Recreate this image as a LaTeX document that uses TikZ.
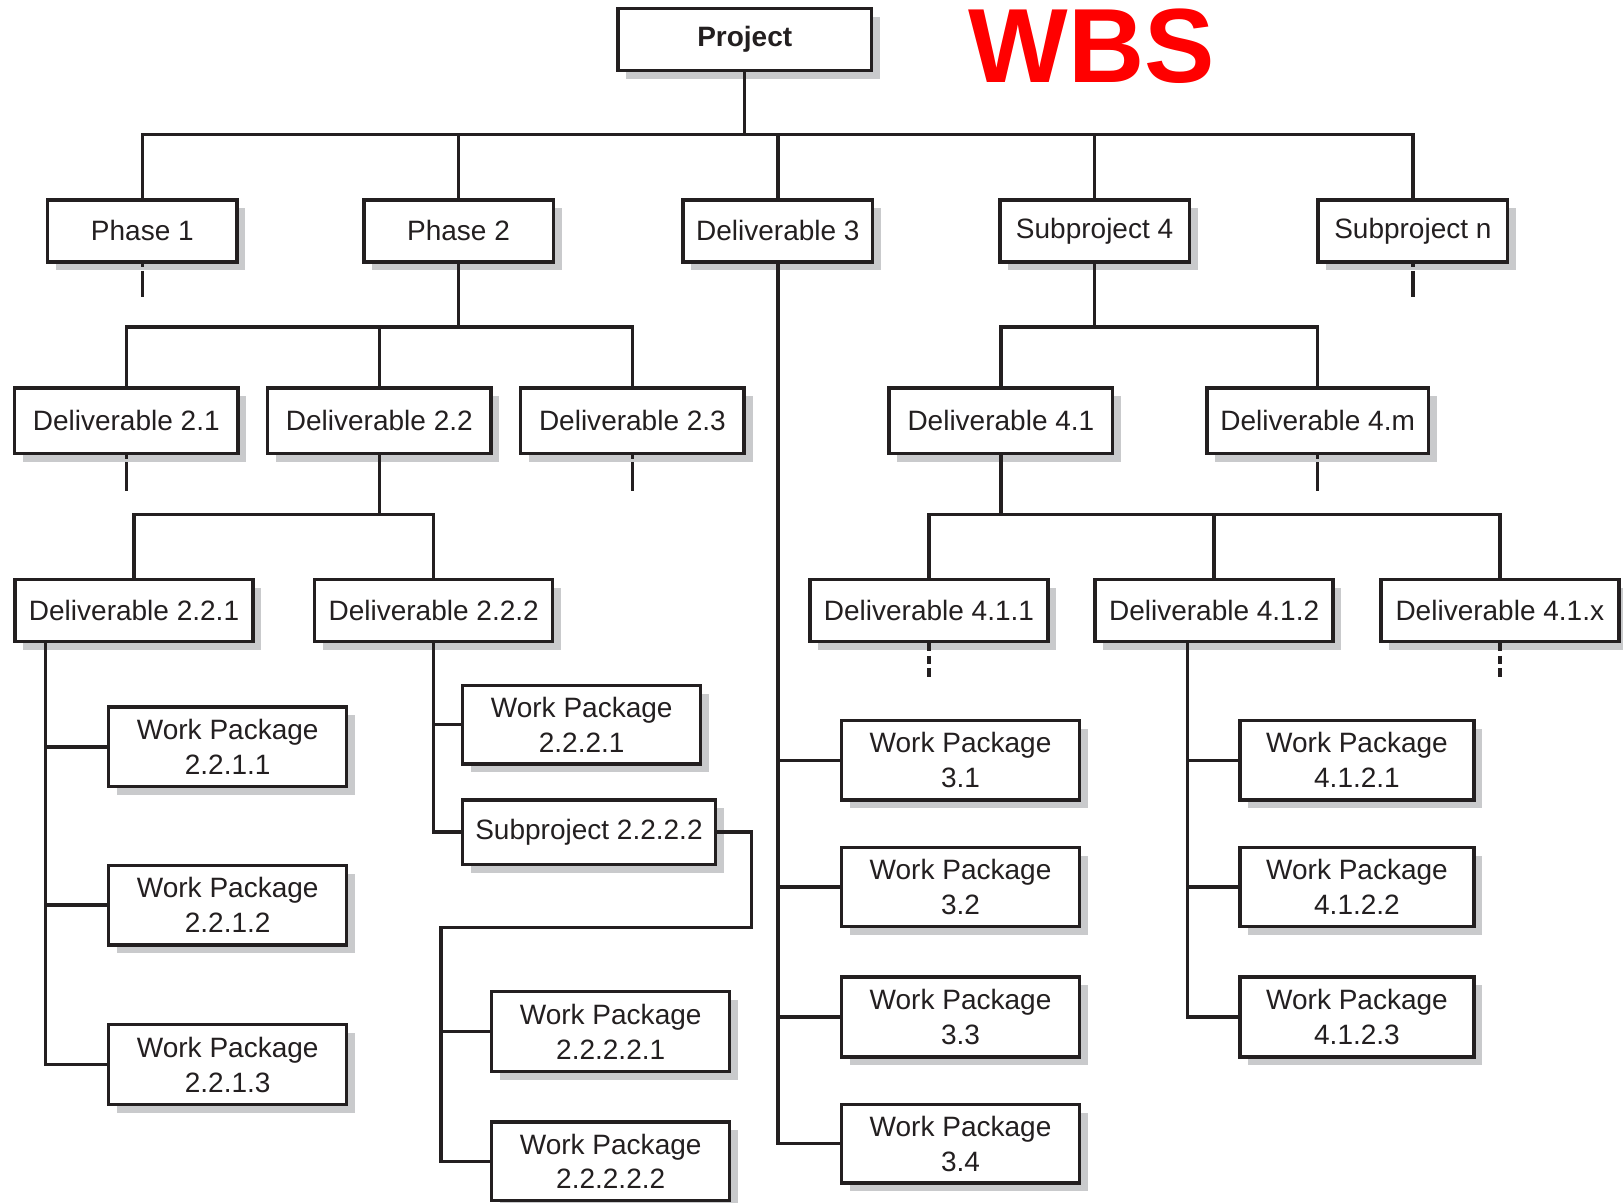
\documentclass[tikz,border=0pt]{standalone}
\usepackage{fontspec}
\setmainfont{Liberation Sans}
\usetikzlibrary{positioning,shadows}
\definecolor{ink}{HTML}{231F20}
\definecolor{shade}{HTML}{C9CACC}
\definecolor{wbsred}{HTML}{FF0000}
\tikzset{
  box/.style={draw=ink, line width=0.95pt, fill=white, text=ink, inner sep=0pt,
    align=center, font=\fontsize{7.7}{9.6}\selectfont,
    drop shadow={shadow xshift=0.8mm, shadow yshift=-0.8mm, fill=shade, opacity=1}},
  lvl/.style={box, minimum width=18.3mm, minimum height=6mm},
  del/.style={box, minimum width=21.6mm, minimum height=6.3mm},
  sub/.style={box, minimum width=23mm, minimum height=6mm},
  wp/.style={box, minimum width=23mm, minimum height=7.7mm},
  link/.style={draw=ink, line width=0.95pt},
  stub/.style={link, dash pattern=on 0.35mm off 0.35mm on 3mm},
  dots/.style={link, dash pattern=on 0.7mm off 0.5mm on 0.8mm off 0.4mm on 0.8mm off 1mm}
}
\begin{document}
\begin{tikzpicture}[x=0.1mm, y=-0.1mm]
  \useasboundingbox (0,0) rectangle (1568,1162);
  \node[box, minimum width=24.5mm, minimum height=6mm, font=\fontsize{7.7}{9.6}\selectfont\bfseries] (proj) at (719.5,38) {Project};
  \node[text=wbsred, font=\fontsize{29}{29}\selectfont\bfseries, anchor=base, inner sep=0pt] (wbs) at (1054.5,80) {WBS};

  \node[lvl] (ph1) at (137.5,223) {Phase 1};
  \node[lvl] (ph2) at (443,223) {Phase 2};
  \node[lvl] (del3) at (751.5,223) {Deliverable 3};
  \node[lvl] (sub4) at (1057.5,223) {Subproject 4};
  \node[lvl] (subn) at (1365,223) {Subproject n};

  \node[del] (d21) at (122,406.5) {Deliverable 2.1};
  \node[del] (d22) at (366.5,406.5) {Deliverable 2.2};
  \node[del] (d23) at (611,406.5) {Deliverable 2.3};
  \node[del] (d41) at (967,406.5) {Deliverable 4.1};
  \node[del, minimum width=21.4mm] (d4m) at (1273,406.5) {Deliverable 4.m};

  \node[sub] (d221) at (129.5,590) {Deliverable 2.2.1};
  \node[sub] (d222) at (419,590) {Deliverable 2.2.2};
  \node[sub] (d411) at (897.5,590) {Deliverable 4.1.1};
  \node[sub] (d412) at (1173,590) {Deliverable 4.1.2};
  \node[sub] (d41x) at (1449,590) {Deliverable 4.1.x};

  \node[wp] (wp2211) at (220,721.5) {Work Package\\2.2.1.1};
  \node[wp] (wp2212) at (220,874.5) {Work Package\\2.2.1.2};
  \node[wp] (wp2213) at (220,1028.5) {Work Package\\2.2.1.3};
  \node[wp, minimum height=7.6mm] (wp2221) at (562,700) {Work Package\\2.2.2.1};
  \node[box, minimum width=24.4mm, minimum height=6.2mm] (sp2222) at (569,804) {Subproject 2.2.2.2};
  \node[wp] (wp22221) at (590,996.5) {Work Package\\2.2.2.2.1};
  \node[wp, minimum height=7.6mm] (wp22222) at (590,1122) {Work Package\\2.2.2.2.2};

  \node[wp] (wp31) at (928,734.5) {Work Package\\3.1};
  \node[wp, minimum height=7.6mm] (wp32) at (928,857) {Work Package\\3.2};
  \node[wp] (wp33) at (928,982.5) {Work Package\\3.3};
  \node[wp, minimum height=7.6mm] (wp34) at (928,1105) {Work Package\\3.4};

  \node[wp, minimum width=22.6mm] (wp4121) at (1311,734.5) {Work Package\\4.1.2.1};
  \node[wp, minimum width=22.6mm, minimum height=7.6mm] (wp4122) at (1311,857) {Work Package\\4.1.2.2};
  \node[wp, minimum width=22.6mm] (wp4123) at (1311,982.5) {Work Package\\4.1.2.3};

  \coordinate (bus0) at (0,130);
  \coordinate (bus1) at (0,316);
  \coordinate (bus2) at (0,497);

  \draw[link] (proj.south) -- (proj.south |- bus0);
  \draw[link] (ph1.north) |- (subn.north |- bus0) -- (subn.north);
  \foreach \n in {ph2,del3,sub4}
    \draw[link] (\n.north) -- (\n.north |- bus0);

  \draw[link] (ph2.south) -- (ph2.south |- bus1);
  \draw[link] (d21.north) |- (d23.north |- bus1) -- (d23.north);
  \draw[link] (d22.north) -- (d22.north |- bus1);
  \draw[link] (sub4.south) -- (sub4.south |- bus1);
  \draw[link] (d41.north) |- (d4m.north |- bus1) -- (d4m.north);

  \draw[link] (d22.south) -- (d22.south |- bus2);
  \draw[link] (d221.north) |- (d222.north |- bus2) -- (d222.north);
  \draw[link] (d41.south) -- (d41.south |- bus2);
  \draw[link] (d411.north) |- (d41x.north |- bus2) -- (d41x.north);
  \draw[link] (d412.north) -- (d412.north |- bus2);

  \coordinate (t221) at ([xshift=3.1mm]d221.south west);
  \draw[link] (t221) |- (wp2213.west);
  \foreach \n in {wp2211,wp2212}
    \draw[link] (\n.west) -- (\n.west -| t221);

  \draw[link] (d222.south) |- (sp2222.west);
  \draw[link] (wp2221.west) -- (wp2221.west -| d222.south);
  \coordinate (jog) at (726,896);
  \coordinate (t2222) at (426,896);
  \draw[link] (sp2222.east) -| (jog) -- (t2222) |- (wp22222.west);
  \draw[link] (wp22221.west) -- (wp22221.west -| t2222);

  \draw[link] (del3.south) |- (wp34.west);
  \foreach \n in {wp31,wp32,wp33}
    \draw[link] (\n.west) -- (\n.west -| del3.south);

  \coordinate (t412) at ([xshift=9.1mm]d412.south west);
  \draw[link] (t412) |- (wp4123.west);
  \foreach \n in {wp4121,wp4122}
    \draw[link] (\n.west) -- (\n.west -| t412);

  \foreach \n/\len in {ph1/3.2mm,subn/3.2mm,d21/3.5mm,d23/3.5mm,d4m/3.5mm} {
    \coordinate (\n-end) at ([yshift=-\len]\n.south);
    \draw[stub] (\n.south) -- (\n-end);
  }
  \foreach \n in {d411,d41x} {
    \coordinate (\n-end) at ([yshift=-3.4mm]\n.south);
    \draw[dots] (\n.south) -- (\n-end);
  }
\end{tikzpicture}
\end{document}
